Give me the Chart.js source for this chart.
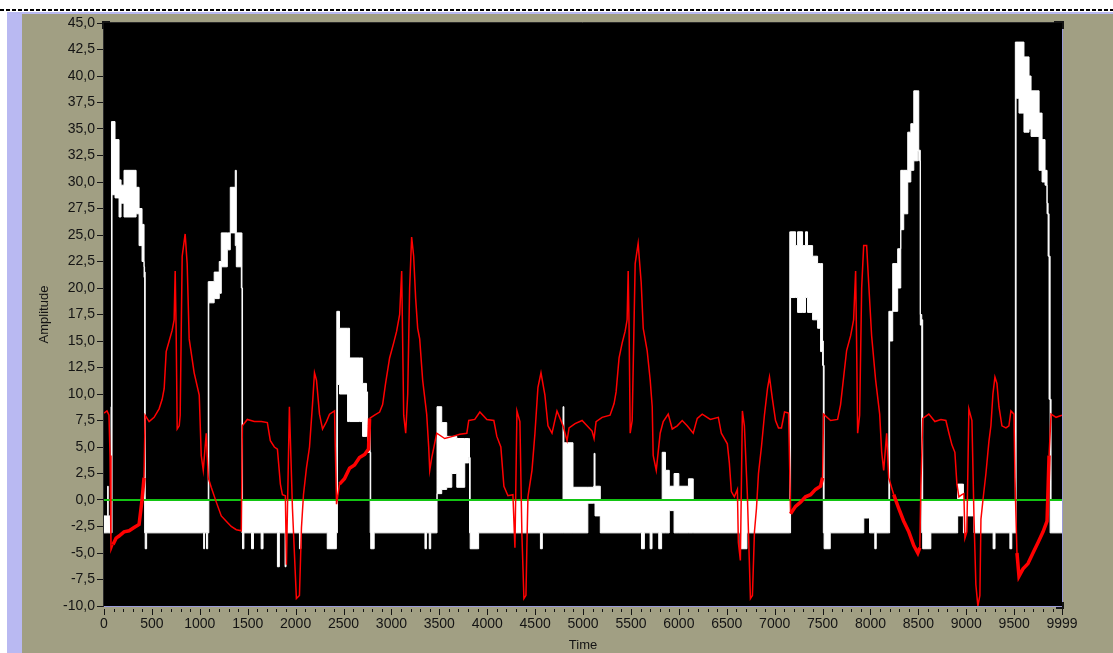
<!DOCTYPE html>
<html>
<head>
<meta charset="utf-8">
<script src="https://cdn.jsdelivr.net/npm/chart.js@4.4.1/dist/chart.umd.min.js"></script>
<style>
  html, body { margin: 0; padding: 0; background: #a19f83; overflow: hidden; }
  #wrap { width: 1113px; height: 653px; }
</style>
</head>
<body>
<div id="wrap"><canvas id="c" width="1113" height="653"></canvas></div>
<script>
// white trace, drawn as an envelope (upper / lower edge per time, held until the next time)
const whiteT = [
  0, 30, 38, 44, 70, 74, 78, 84, 115, 157, 178, 209, 314, 335, 366, 397, 418, 424, 430, 445,
  1030, 1040, 1050, 1070, 1082, 1088, 1094, 1150, 1203, 1224, 1287, 1318, 1370, 1381, 1433, 1440, 1446,
  1460, 1540, 1560, 1640, 1660, 1800, 1810, 1830, 1880, 1890, 1900, 2040, 2055, 2320, 2330, 2400, 2425,
  2430, 2436, 2458, 2542, 2563, 2667, 2699, 2740, 2751, 2772, 2778, 2784, 2810, 2820,
  3340, 3350, 3365, 3395, 3410, 3470, 3476, 3525, 3577, 3630, 3682, 3765, 3807, 3815, 3822, 3900, 3910,
  4520, 4555, 4575, 4780, 4791, 4800, 4885, 4895, 5042, 5050, 5110, 5115, 5125, 5170, 5180,
  5600, 5610, 5640, 5700, 5720, 5790, 5820, 5826, 5860, 5900, 5950, 6000, 6100, 6145, 6150,
  6630, 6640, 6700, 6710, 7150, 7158, 7166, 7218, 7239, 7291, 7322, 7343, 7396, 7448, 7479, 7500, 7508, 7516,
  7570, 7580, 7930, 7980, 7990, 8045, 8060, 8185, 8192, 8200, 8232, 8284, 8316, 8347, 8389, 8421, 8452, 8494,
  8504, 8520, 8535, 8545, 8620, 8630, 8900, 8910, 8960, 8970, 9000, 9070, 9080, 9280, 9300, 9455, 9475,
  9505, 9512, 9520, 9550, 9602, 9655, 9676, 9728, 9760, 9791, 9822, 9843, 9854, 9864, 9875, 9885, 9999,
]
const whiteHi = [
  -1.5, -1.5, 1.3, -1.5, -1.5, 8.8, 35.7, 35.7, 34.0, 30.2, 29.7, 31.1, 31.1, 29.5, 27.5, 26.0, 22.0, 21.5, 0, 0,
  0, 0, 0, 0, 0, 20.6, 20.6, 21.5, 22.5, 25.2, 25.2, 29.5, 31.1, 25.2, 25.2, 20.0, 0,
  0, 0, 0, 0, 0, 0, 0, 0, 0, 0, 0, 0, 0, 0, 0, 0, 0,
  17.8, 17.8, 16.2, 16.2, 13.4, 13.4, 11.0, 10.2, 7.0, 7.0, 4.5, 0, 0, 0,
  0, 0, 0, 0, 0, 0, 8.8, 7.3, 6.0, 6.0, 5.8, 5.8, 5.8, 4.0, 0, 0, 0,
  0, 0, 0, 0, 8.8, 5.4, 5.4, 1.2, 1.2, 1.2, 1.3, 4.4, 1.3, 1.3, 0,
  0, 0, 0, 0, 0, 0, 0, 4.5, 2.8, 1.3, 2.5, 1.3, 2.0, 2.0, 0,
  0, 0, 0, 0, 0, 25.3, 25.3, 24.0, 25.3, 24.0, 25.3, 24.0, 23.0, 22.3, 22.3, 15.0, 12.7, 0,
  0, 0, 0, 0, 0, 0, 0, 0, 17.8, 17.8, 22.3, 23.7, 31.1, 31.1, 34.7, 35.5, 38.6, 38.6,
  33.0, 17.5, 17.0, 0, 0, 0, 0, 1.5, 1.5, 0, 0, 0, 0, 0, 0, 0, 0,
  0, 43.2, 43.2, 43.2, 41.8, 40.0, 38.6, 38.6, 36.5, 34.0, 31.1, 28.0, 27.0, 23.0, 9.5, 0, 0,
]
const whiteLo = [
  -3.1, -3.1, -3.1, -3.1, -3.1, -3.1, -3.1, 28.8, 28.5, 26.7, 28.0, 26.7, 26.7, 27.0, 24.0, 22.5, 21.0, -3.1, -4.6, -3.1,
  -3.1, -4.6, -3.1, -4.6, -3.1, -3.1, 18.6, 19.0, 19.5, 22.0, 23.6, 25.2, 24.0, 22.0, 20.0, -3.1, -4.6,
  -3.1, -4.6, -3.1, -4.6, -3.1, -3.1, -6.3, -3.1, -3.1, -6.3, -3.1, -4.6, -3.1, -3.1, -4.6, -4.6, -3.1,
  -3.1, 10.9, 10.0, 7.4, 7.4, 7.4, 6.0, 6.0, 4.5, 4.5, -3.1, -4.6, -4.6, -3.1,
  -3.1, -4.6, -3.1, -4.6, -3.1, -3.1, 0.6, 1.0, 1.2, 2.5, 1.2, 3.5, 4.0, -3.1, -4.6, -4.6, -3.1,
  -3.1, -4.6, -3.1, -3.1, -3.1, -3.1, -3.1, -3.1, -3.1, -0.3, -0.3, -0.3, -1.5, -1.5, -3.1,
  -3.1, -4.6, -3.1, -4.6, -3.1, -4.6, -3.1, -3.1, -3.1, -1.0, -3.1, -3.1, -3.1, -3.1, -3.1,
  -3.1, -4.6, -4.6, -3.1, -3.1, -3.1, 19.1, 19.1, 17.7, 17.7, 19.1, 17.7, 17.0, 16.2, 14.0, 12.7, -3.1, -4.6,
  -4.6, -3.1, -1.7, -1.7, -3.1, -4.6, -3.1, -3.1, -3.1, 15.0, 17.8, 20.0, 25.5, 27.0, 30.0, 31.1, 32.0, 32.9,
  32.0, 16.5, -3.1, -4.6, -4.6, -3.1, -3.1, -1.5, -1.5, -3.1, -1.5, -1.5, -3.1, -4.6, -3.1, -4.6, -3.1,
  -3.1, -3.1, 37.9, 36.5, 34.7, 35.0, 34.3, 34.3, 31.1, 30.0, 29.7, 27.0, 23.0, 9.5, -3.1, -3.1, -3.1,
]

// red trace
const redT = [
  0, 31, 52, 63, 73, 94, 126, 157, 209, 262, 314, 366, 397, 418, 429, 471, 523, 575, 607, 628,
  649, 680, 711, 732, 743, 753, 764, 785, 795, 816, 847, 868, 889, 941, 994, 1015, 1036, 1067, 1088, 1119,
  1172, 1224, 1276, 1328, 1381, 1433, 1444, 1496, 1569, 1642, 1705, 1736, 1778, 1810, 1841, 1862, 1893, 1904, 1935, 1967,
  2008, 2040, 2061, 2082, 2113, 2145, 2176, 2197, 2218, 2249, 2281, 2322, 2354, 2406, 2427, 2458, 2510, 2563, 2615, 2667,
  2720, 2761, 2772, 2824, 2877, 2908, 2939, 2981, 3023, 3054, 3086, 3107, 3128, 3149, 3170, 3190, 3211, 3232, 3253, 3274,
  3295, 3326, 3368, 3389, 3400, 3421, 3473, 3556, 3640, 3713, 3787, 3807, 3870, 3923, 3996, 4069, 4100, 4142, 4174, 4216,
  4268, 4289, 4310, 4341, 4362, 4383, 4404, 4414, 4425, 4467, 4498, 4529, 4561, 4602, 4634, 4676, 4728, 4760, 4791, 4833,
  4854, 4917, 4990, 5042, 5094, 5115, 5136, 5199, 5282, 5324, 5345, 5376, 5408, 5439, 5460, 5471, 5481, 5492, 5513, 5544,
  5575, 5607, 5628, 5669, 5701, 5722, 5732, 5764, 5805, 5837, 5889, 5931, 5983, 6035, 6087, 6150, 6192, 6244, 6328, 6412,
  6443, 6506, 6527, 6548, 6579, 6611, 6621, 6642, 6663, 6684, 6715, 6747, 6768, 6789, 6810, 6831, 6862, 6893, 6925, 6946,
  6977, 7009, 7040, 7071, 7103, 7145, 7155, 7166, 7218, 7270, 7322, 7375, 7427, 7479, 7500, 7510, 7584, 7657, 7688, 7720,
  7751, 7793, 7824, 7845, 7855, 7866, 7887, 7908, 7929, 7960, 7981, 8012, 8054, 8096, 8117, 8138, 8169, 8190, 8243, 8295,
  8347, 8400, 8452, 8494, 8515, 8526, 8546, 8609, 8672, 8735, 8787, 8819, 8850, 8881, 8902, 8923, 8954, 8975, 8986, 9006,
  9027, 9059, 9080, 9100, 9121, 9142, 9153, 9174, 9205, 9236, 9257, 9278, 9299, 9320, 9341, 9372, 9414, 9445, 9466, 9498,
  9508, 9529, 9550, 9592, 9644, 9696, 9749, 9801, 9843, 9864, 9885, 9937, 9999,
]
const redV = [
  8.2, 8.4, 8.0, 4.2, -4.7, -4.2, -3.6, -3.4, -3.0, -2.9, -2.6, -2.3, 0.0, 2.1, 8.0, 7.4, 7.8, 8.6, 9.5, 10.5,
  14.0, 15.0, 16.0, 17.0, 21.6, 16.0, 6.7, 7.0, 8.0, 23.0, 25.1, 22.3, 15.2, 12.0, 9.9, 4.2, 2.8, 6.3, 2.1, 1.2,
  -0.2, -1.5, -2.0, -2.5, -2.8, -2.9, 7.0, 7.6, 7.4, 7.4, 7.3, 5.6, 5.0, 4.8, 1.5, 0.5, 0.4, -6.1, 8.8, -0.8,
  -9.3, -9.0, -2.6, 0.5, 3.0, 5.0, 9.0, 12.0, 11.3, 8.1, 6.7, 7.4, 8.1, 8.4, -0.4, 1.5, 2.0, 3.0, 3.3, 4.0,
  4.3, 4.8, 7.7, 8.0, 8.3, 9.0, 11.0, 13.4, 14.8, 15.9, 17.5, 21.6, 8.0, 6.3, 10.0, 20.0, 24.8, 23.0, 19.0, 16.2,
  15.2, 11.3, 8.1, 5.0, 2.8, 4.0, 6.3, 5.8, 6.0, 6.2, 6.3, 7.5, 7.6, 8.3, 7.6, 7.5, 6.0, 5.0, 1.3, 0.4,
  0.5, -4.5, 8.4, 7.4, -3.3, -9.3, -9.0, -4.3, 0.3, 2.8, 6.3, 10.6, 12.0, 9.9, 7.0, 6.3, 8.4, 7.7, 7.0, 5.6,
  6.8, 7.2, 7.5, 7.0, 6.5, 5.8, 7.4, 7.8, 8.0, 9.1, 10.2, 13.4, 14.8, 15.9, 17.0, 21.6, 16.0, 6.3, 7.5, 22.3,
  24.2, 20.5, 16.2, 14.1, 11.3, 8.8, 4.2, 2.8, 6.3, 7.4, 8.1, 6.7, 7.0, 7.5, 7.0, 6.3, 7.7, 8.1, 7.6, 7.8,
  6.3, 5.3, 3.5, 0.8, 0.3, 1.0, -4.0, -5.7, 8.4, 7.0, 0.5, -9.3, -9.0, -3.0, -0.8, 2.5, 5.0, 8.0, 10.5, 11.6,
  9.5, 7.5, 6.8, 6.8, 8.3, 8.2, 3.8, -1.3, -0.6, -0.2, 0.3, 0.5, 1.0, 1.3, 2.1, 8.1, 7.5, 7.6, 9.0, 11.6,
  14.1, 15.5, 17.0, 21.6, 15.0, 6.3, 8.0, 20.0, 24.0, 24.0, 20.5, 15.5, 11.3, 8.1, 4.5, 2.8, 6.3, 2.1, 0.5, -0.8,
  -2.0, -3.0, -4.3, -5.0, -4.5, 1.3, 7.7, 8.1, 7.4, 7.6, 7.5, 6.3, 5.2, 4.5, 1.5, 0.3, 0.5, 0.6, -3.6, -3.0,
  8.6, 7.5, -1.5, -8.0, -10.0, -9.0, -1.8, 0.0, 2.5, 5.5, 7.0, 10.0, 11.6, 11.0, 8.8, 7.0, 6.8, 7.0, 8.4, 8.1,
  2.1, -5.0, -7.2, -6.5, -6.0, -5.0, -4.0, -3.0, -2.0, 4.2, 8.1, 7.8, 8.0,
]
// stretches where the red trace is noisy and looks thick
const redNoisy = [[80, 400], [2430, 2770], [7160, 7500], [8200, 8500], [9520, 9850]]

// zero reference line
const zeroT = [0, 9999]
const zeroV = [0, 0]

// axis ticks
const xTicks = [0, 500, 1000, 1500, 2000, 2500, 3000, 3500, 4000, 4500, 5000, 5500, 6000, 6500, 7000, 7500, 8000, 8500, 9000, 9500, 9999]
const xMinorStep = 100

const KHAKI = '#a19f83'
const LAVENDER = '#b9b9f2'
const INK = '#141414'
const FONT = "'Liberation Sans', Arial, sans-serif"

const pts = (t, v) => t.map((x, i) => ({ x, y: v[i] }))
const noisy = (x) => redNoisy.some(([a, b]) => x >= a && x < b)

const frame = {
  id: 'frame',
  beforeDraw(chart) {
    const { ctx, chartArea: a, width, height } = chart
    ctx.save()
    ctx.fillStyle = '#ffffff'
    ctx.fillRect(0, 0, width, height)
    ctx.fillStyle = KHAKI
    ctx.fillRect(7, 12, width - 7, height - 12)
    ctx.fillStyle = LAVENDER
    ctx.fillRect(7, 12, 15, height - 12)
    ctx.fillRect(7, 12, width - 7, 2)
    // dashed top rule
    ctx.strokeStyle = '#000'
    ctx.lineWidth = 2
    ctx.setLineDash([4, 2])
    ctx.beginPath()
    ctx.moveTo(0, 10)
    ctx.lineTo(width, 10)
    ctx.stroke()
    ctx.setLineDash([])
    ctx.fillStyle = '#000'
    ctx.fillRect(a.left, a.top, a.right - a.left, a.bottom - a.top)
    ctx.restore()
  },
  afterDraw(chart) {
    const { ctx, chartArea: a } = chart
    const xs = chart.scales.x
    ctx.save()
    // plot border
    ctx.lineWidth = 1
    ctx.strokeStyle = '#2a2a2a'
    ctx.beginPath()
    ctx.moveTo(a.left - 0.5, a.bottom + 1)
    ctx.lineTo(a.left - 0.5, a.top - 0.5)
    ctx.lineTo(a.right, a.top - 0.5)
    ctx.stroke()
    ctx.strokeStyle = '#9a9ad8'
    ctx.beginPath()
    ctx.moveTo(a.left, a.bottom + 0.5)
    ctx.lineTo(a.right + 0.5, a.bottom + 0.5)
    ctx.lineTo(a.right + 0.5, a.top)
    ctx.stroke()
    // corner marks
    ctx.strokeStyle = INK
    ctx.lineWidth = 2
    ctx.beginPath()
    ctx.moveTo(a.right - 8, a.top - 1)
    ctx.lineTo(a.right + 1, a.top - 1)
    ctx.lineTo(a.right + 1, a.top + 6)
    ctx.moveTo(a.right + 1, a.bottom - 4)
    ctx.lineTo(a.right + 1, a.bottom + 2)
    ctx.lineTo(a.right - 6, a.bottom + 2)
    ctx.moveTo(a.left - 1, a.top + 6)
    ctx.lineTo(a.left - 1, a.top - 1)
    ctx.lineTo(a.left + 6, a.top - 1)
    ctx.stroke()
    // x ticks: majors at labelled values, minors every 100
    ctx.lineWidth = 1
    ctx.strokeStyle = INK
    ctx.beginPath()
    for (let v = 0; v < xs.max; v += xMinorStep) {
      const px = Math.round(xs.getPixelForValue(v)) + 0.5
      const major = v % 500 === 0
      ctx.moveTo(px, a.bottom + 3)
      ctx.lineTo(px, a.bottom + (major ? 9 : 6))
    }
    const pe = Math.round(xs.getPixelForValue(xs.max)) + 0.5
    ctx.moveTo(pe, a.bottom + 3)
    ctx.lineTo(pe, a.bottom + 9)
    ctx.stroke()
    ctx.restore()
  },
}

new Chart(document.getElementById('c'), {
  type: 'line',
  data: {
    datasets: [
      {
        label: 'Amplitude', data: pts(redT, redV), order: 0,
        borderColor: '#ff0000', borderWidth: 1.5, pointRadius: 0, tension: 0, fill: false,
        segment: { borderWidth: (c) => (noisy(c.p0.parsed.x) ? 3.5 : 1.5) },
      },
      {
        label: 'Zero', data: pts(zeroT, zeroV), order: 1,
        borderColor: '#12c412', borderWidth: 2, pointRadius: 0, fill: false,
      },
      {
        label: 'Signal max', data: pts(whiteT, whiteHi), order: 2, stepped: 'before',
        borderColor: '#ffffff', backgroundColor: '#ffffff', borderWidth: 1, pointRadius: 0, fill: '+1',
      },
      {
        label: 'Signal min', data: pts(whiteT, whiteLo), order: 3, stepped: 'before',
        borderColor: '#ffffff', borderWidth: 1, pointRadius: 0, fill: false,
      },
    ],
  },
  options: {
    responsive: false,
    animation: false,
    events: [],
    layout: { padding: { left: 0, top: 23, right: 51, bottom: 0 } },
    plugins: { legend: { display: false }, tooltip: { enabled: false } },
    scales: {
      x: {
        type: 'linear', min: 0, max: 9999,
        afterFit: (s) => { s.height = 47 },
        afterBuildTicks: (s) => { s.ticks = xTicks.map((value) => ({ value })) },
        grid: { display: false, drawTicks: false },
        border: { display: false },
        ticks: {
          color: INK, font: { family: FONT, size: 14 }, padding: 10, maxRotation: 0, autoSkip: false,
          callback: (v) => String(v),
        },
        title: { display: true, text: 'Time', color: INK, font: { family: FONT, size: 13 }, padding: 0 },
      },
      y: {
        min: -10, max: 45,
        afterFit: (s) => { s.width = 104 },
        grid: { drawOnChartArea: false, drawTicks: true, tickLength: 7, color: INK },
        border: { display: false },
        ticks: {
          stepSize: 2.5, color: INK, padding: 2,
          font: { family: FONT, size: 14 },
          callback: (v) => v.toFixed(1).replace('.', ','),
        },
        title: { display: true, text: 'Amplitude', color: INK, font: { family: FONT, size: 13 }, padding: { top: 37 } },
      },
    },
  },
  plugins: [frame],
})
</script>
</body>
</html>
